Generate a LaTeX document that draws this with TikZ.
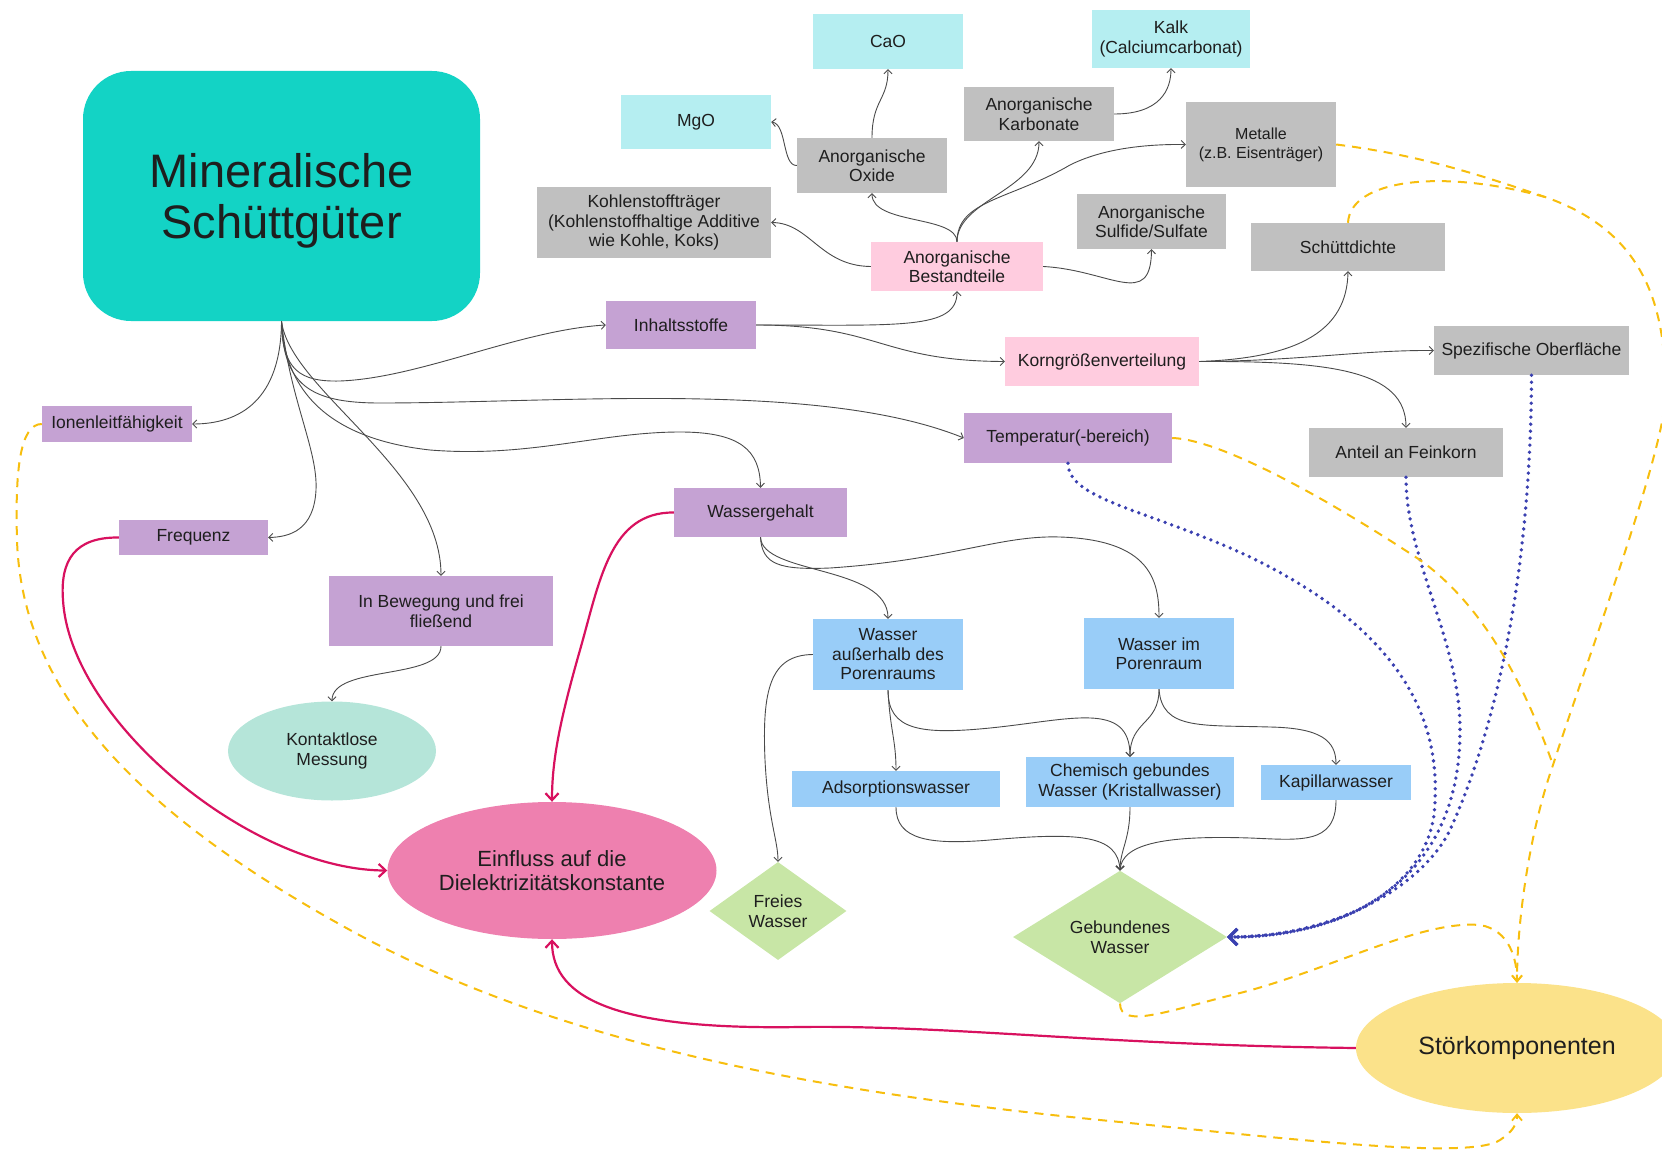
\documentclass[tikz,border=0pt]{standalone}
\usepackage{fontspec}
\setmainfont{Liberation Sans}
\usetikzlibrary{shapes.geometric,arrows.meta}
\definecolor{cteal}{HTML}{13D3C5}
\definecolor{ccyan}{HTML}{B5EEF1}
\definecolor{cgrey}{HTML}{C0C0C0}
\definecolor{cpinkl}{HTML}{FFCCDF}
\definecolor{cpurple}{HTML}{C5A2D3}
\definecolor{cblue}{HTML}{99CDF8}
\definecolor{cmint}{HTML}{B5E5D9}
\definecolor{cpinke}{HTML}{EE80AF}
\definecolor{cgreen}{HTML}{C8E6A6}
\definecolor{cyell}{HTML}{FBE28A}
\definecolor{txt}{HTML}{1E1E1E}
\definecolor{lineg}{HTML}{4A4A4A}
\definecolor{mag}{HTML}{D8115F}
\definecolor{ydash}{HTML}{F7BE0E}
\definecolor{bdot}{HTML}{3A40B0}
\tikzset{
  base/.style={inner sep=0pt, align=center, text=txt, font=\fontsize{17.5}{19.5}\selectfont},
  rbox/.style={base, rectangle},
  sz/.style 2 args={minimum width=#1pt, minimum height=#2pt},
  gline/.style={draw=lineg, line width=0.9pt, -{Straight Barb[length=4pt,width=8pt]}},
  mline/.style={draw=mag, line width=2.2pt, -{Straight Barb[length=7pt,width=13pt,line width=2.2pt]}},
  bline/.style={draw=bdot, line width=3.8pt, line cap=round, dash pattern=on 0pt off 7pt, -{Straight Barb[length=8pt,width=16pt,line width=3pt]}},
  yline/.style={draw=ydash, line width=2pt, dash pattern=on 9pt off 7pt, -{Straight Barb[length=6pt,width=10pt,line width=1.8pt]}},
  yplain/.style={draw=ydash, line width=2pt, dash pattern=on 9pt off 7pt}
}
\begin{document}
\begin{tikzpicture}[x=1pt,y=-1pt]
\useasboundingbox (0,0) rectangle (1662,1150);
\clip (0,0) rectangle (1662,1150);

% nodes
\node[rbox, fill=cteal, rounded corners=48pt, sz={397}{250}] (main) at (281.5,196) {};
\node[base, font=\fontsize{47}{51}\selectfont] (maintxt) at (281.5,201) {Mineralische\\Schüttgüter};
\node[rbox, fill=ccyan, sz={150}{55}] (cao) at (888,41.5) {CaO};
\node[rbox, fill=ccyan, sz={158}{58}] (kalk) at (1171,39) {Kalk\\(Calciumcarbonat)};
\node[rbox, fill=ccyan, sz={150}{54}] (mgo) at (696,122) {MgO};
\node[rbox, fill=cgrey, sz={150}{54}] (karb) at (1039,114) {Anorganische\\Karbonate};
\node[rbox, fill=cgrey, sz={150}{55}] (oxide) at (872,165.5) {Anorganische\\Oxide};
\node[rbox, fill=cgrey, sz={150}{85}, font=\fontsize{16}{19}\selectfont] (metalle) at (1261,144.5) {Metalle\\(z.B. Eisenträger)};
\node[rbox, fill=cgrey, sz={234}{71}] (kohle) at (654,222.5) {Kohlenstoffträger\\(Kohlenstoffhaltige Additive\\wie Kohle, Koks)};
\node[rbox, fill=cgrey, sz={149}{55}] (sulf) at (1151.5,221.5) {Anorganische\\Sulfide/Sulfate};
\node[rbox, fill=cgrey, sz={194}{48}] (schutt) at (1348,247) {Schüttdichte};
\node[rbox, fill=cpinkl, sz={172}{49}] (best) at (957,266.5) {Anorganische\\Bestandteile};
\node[rbox, fill=cpurple, sz={150}{48}] (inhalt) at (681,325) {Inhaltsstoffe};
\node[rbox, fill=cpinkl, sz={194}{49}] (korn) at (1102,361.5) {Korngrößenverteilung};
\node[rbox, fill=cgrey, sz={195}{49}] (spez) at (1531.5,350.5) {Spezifische Oberfläche};
\node[rbox, fill=cpurple, sz={150}{36}] (ionen) at (117,424) {Ionenleitfähigkeit};
\node[rbox, fill=cpurple, sz={208}{50}] (temp) at (1068,438) {Temperatur(-bereich)};
\node[rbox, fill=cgrey, sz={194}{49}] (anteil) at (1406,452.5) {Anteil an Feinkorn};
\node[rbox, fill=cpurple, sz={173}{49}] (wg) at (760.5,512.5) {Wassergehalt};
\node[rbox, fill=cpurple, sz={149}{35}] (freq) at (193.5,537.5) {Frequenz};
\node[rbox, fill=cpurple, sz={224}{70}] (bew) at (441,611) {In Bewegung und frei\\fließend};
\node[rbox, fill=cblue, sz={150}{71}] (waus) at (888,654.5) {Wasser\\außerhalb des\\Porenraums};
\node[rbox, fill=cblue, sz={150}{71}] (wim) at (1159,653.5) {Wasser im\\Porenraum};
\node[base, ellipse, fill=cmint, sz={208}{99}] (kont) at (332,751) {Kontaktlose\\Messung};
\node[rbox, fill=cblue, sz={208}{36}] (ads) at (896,789) {Adsorptionswasser};
\node[rbox, fill=cblue, sz={208}{50}] (chem) at (1130,782) {Chemisch gebundes\\Wasser (Kristallwasser)};
\node[rbox, fill=cblue, sz={150}{35}] (kap) at (1336,782.5) {Kapillarwasser};
\node[base, ellipse, fill=cpinke, sz={329}{137}, font=\fontsize{22}{24}\selectfont] (einf) at (552,870.5) {Einfluss auf die\\Dielektrizitätskonstante};
\node[base, diamond, fill=cgreen, sz={137}{98}] (freies) at (778,911) {Freies\\Wasser};
\node[base, diamond, fill=cgreen, sz={214}{122}] (gebw) at (1120,937) {Gebundenes\\Wasser};
\node[base, ellipse, fill=cyell, sz={322}{130}, font=\fontsize{25}{28}\selectfont] (stor) at (1517,1048) {Störkomponenten};

% grey connectors from main
\draw[gline] (main.south) .. controls (282,370) and (300,382) .. (340,381) .. controls (420,378) and (520,330) .. (inhalt.west);
\draw[gline] (main.south) .. controls (283,385) and (310,403) .. (380,403) .. controls (560,403) and (820,380) .. (temp.west);
\draw[gline] (main.south) .. controls (285,400) and (340,440) .. (430,450) .. controls (530,458) and (600,432) .. (680,432) .. controls (740,432) and (760,450) .. (wg.north);
\draw[gline] (main.south) .. controls (281,400) and (240,424) .. (ionen.east);
\draw[gline] (main.south) .. controls (290,400) and (318,450) .. (316,490) .. controls (314,530) and (290,537) .. (freq.east);
\draw[gline] (main.south) .. controls (290,390) and (441,470) .. (bew.north);
\draw[gline] (bew.south) .. controls (441,680) and (332,665) .. (kont.north);

% Inhaltsstoffe
\draw[gline] (inhalt.east) .. controls (900,325) and (957,330) .. (best.south);
\draw[gline] (inhalt.east) .. controls (880,325) and (880,361) .. (korn.west);

% Bestandteile
\draw[gline] (best.north) .. controls (957,215) and (872,225) .. (oxide.south);
\draw[gline] (best.north) .. controls (957,200) and (1039,190) .. (karb.south);
\draw[gline] (best.north) .. controls (957,200) and (1010,200) .. (1070,165) .. controls (1100,150) and (1140,144) .. (metalle.west);
\draw[gline] (best.west) .. controls (820,266) and (810,223) .. (kohle.east);
\draw[gline] (best.east) .. controls (1110,270) and (1151,310) .. (sulf.south);
\draw[gline] (oxide.north) .. controls (872,100) and (888,100) .. (cao.south);
\draw[gline] (oxide.west) .. controls (782,166) and (787,124) .. (mgo.east);
\draw[gline] (karb.east) .. controls (1160,114) and (1171,90) .. (kalk.south);

% Korngroessen
\draw[gline] (korn.east) .. controls (1300,358) and (1347,330) .. (schutt.south);
\draw[gline] (korn.east) .. controls (1300,361) and (1360,350) .. (spez.west);
\draw[gline] (korn.east) .. controls (1330,361) and (1406,370) .. (anteil.north);

% Wasser
\draw[gline] (wg.south) .. controls (762,575) and (888,565) .. (waus.north);
\draw[gline] (wg.south) .. controls (762,565) and (780,570) .. (830,568) .. controls (950,560) and (1000,535) .. (1060,537) .. controls (1150,540) and (1159,580) .. (wim.north);
\draw[gline] (waus.west) .. controls (770,655) and (762,690) .. (765,760) .. controls (768,820) and (778,840) .. (freies.north);
\draw[gline] (waus.south) .. controls (890,730) and (896,740) .. (ads.north);
\draw[gline] (waus.south) .. controls (888,730) and (920,735) .. (990,728) .. controls (1070,720) and (1130,700) .. (chem.north);
\draw[gline] (wim.south) .. controls (1159,725) and (1130,720) .. (chem.north);
\draw[gline] (wim.south) .. controls (1162,730) and (1200,725) .. (1270,727) .. controls (1320,728) and (1336,740) .. (kap.north);
\draw[gline] (ads.south) .. controls (896,840) and (930,845) .. (990,840) .. controls (1080,832) and (1118,835) .. (gebw.north);
\draw[gline] (chem.south) .. controls (1130,840) and (1120,850) .. (gebw.north);
\draw[gline] (kap.south) .. controls (1336,845) and (1300,840) .. (1250,838) .. controls (1160,835) and (1122,845) .. (gebw.north);

% magenta
\draw[mline] (freq.west) .. controls (75,537) and (60,560) .. (63,600) .. controls (70,720) and (250,870) .. (einf.west);
\draw[mline] (wg.west) .. controls (610,512) and (600,580) .. (580,650) .. controls (560,720) and (552,760) .. (einf.north);
\draw[mline] (stor.west) .. controls (1100,1045) and (950,1025) .. (800,1027) .. controls (620,1030) and (552,1000) .. (einf.south);

% blue dotted
\draw[bline] (temp.south) .. controls (1068,500) and (1150,510) .. (1250,557) .. controls (1380,620) and (1440,700) .. (1435,800) .. controls (1435,880) and (1350,937) .. (gebw.east);
\draw[bline] (anteil.south) .. controls (1406,560) and (1460,640) .. (1460,730) .. controls (1460,880) and (1350,937) .. (gebw.east);
\draw[bline] (spez.south) .. controls (1531,560) and (1500,720) .. (1450,830) .. controls (1420,890) and (1330,937) .. (gebw.east);

% yellow dashed
\coordinate (j1) at (1545,197);
\coordinate (j2) at (1553,765);
\draw[yline] (metalle.east) .. controls (1420,155) and (1480,175) .. (j1) .. controls (1640,230) and (1668,300) .. (1665,400) .. controls (1662,460) and (1580,680) .. (j2) .. controls (1530,830) and (1517,920) .. (stor.north);
\draw[yplain] (schutt.north) .. controls (1350,180) and (1440,168) .. (j1);
\draw[yplain] (temp.east) .. controls (1230,440) and (1360,520) .. (1420,560) .. controls (1490,610) and (1530,700) .. (j2);
\draw[yline] (gebw.south) .. controls (1120,1030) and (1170,1010) .. (1240,993) .. controls (1330,970) and (1420,920) .. (1480,925) .. controls (1510,930) and (1517,960) .. (stor.north);
\draw[yline] (ionen.west) .. controls (20,424) and (15,470) .. (17,540) .. controls (22,700) and (150,820) .. (350,930) .. controls (550,1040) and (800,1090) .. (1100,1120) .. controls (1300,1140) and (1470,1160) .. (1500,1140) .. controls (1512,1132) and (1517,1125) .. (stor.south);
\end{tikzpicture}
\end{document}
